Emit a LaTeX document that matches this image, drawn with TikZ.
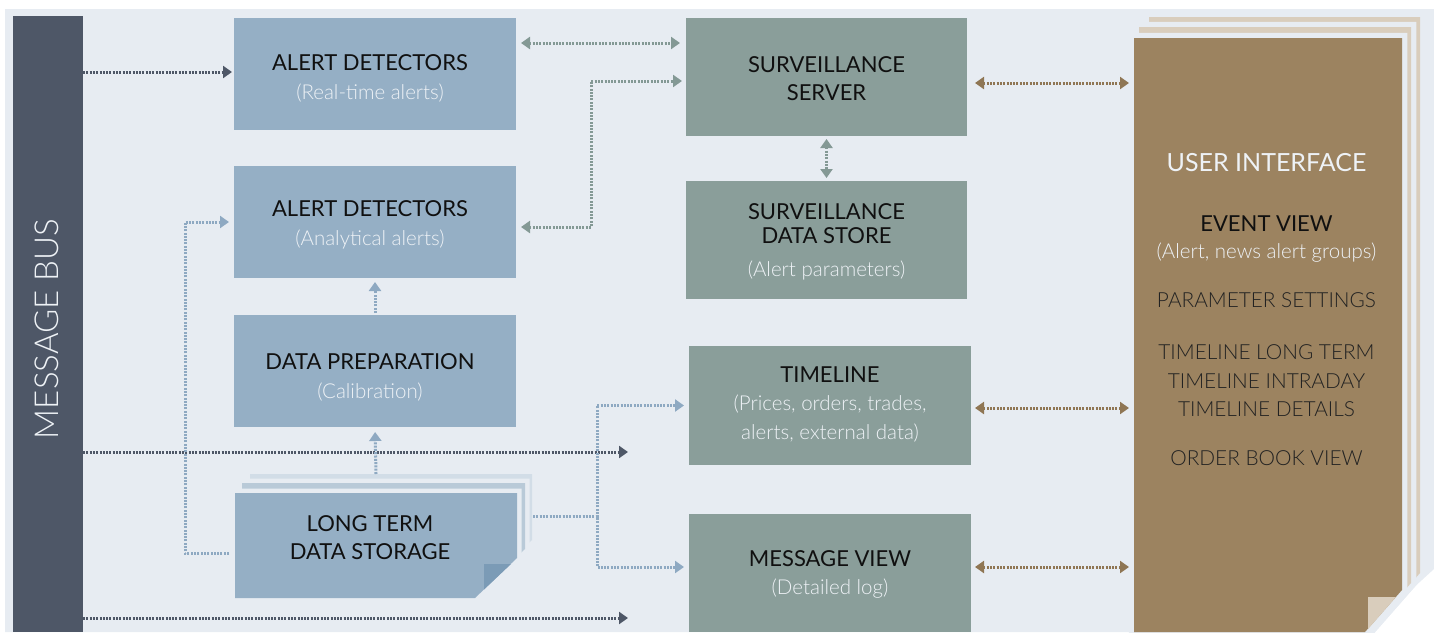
\documentclass[tikz,border=0pt]{standalone}
\usepackage{fontspec}
\setmainfont{Lato}
\newfontfamily\lightfont{Lato Light}
\usetikzlibrary{arrows.meta,calc}

\definecolor{bgc}{HTML}{E7ECF2}
\definecolor{busc}{HTML}{4E5767}
\definecolor{boxblue}{HTML}{95AFC5}
\definecolor{foldblue}{HTML}{7B9BB6}
\definecolor{sheetblueA}{HTML}{B9CAD8}
\definecolor{sheetblueB}{HTML}{D2DDE7}
\definecolor{boxgreen}{HTML}{8A9E9A}
\definecolor{uibrown}{HTML}{9C8360}
\definecolor{sheetbeige}{HTML}{D9CDBC}
\definecolor{arrowblue}{HTML}{8EA9C2}
\definecolor{arrowgreen}{HTML}{849995}
\definecolor{arrowbrown}{HTML}{8F7654}
\definecolor{titlec}{HTML}{101010}
\definecolor{subc}{HTML}{EEF2F6}
\definecolor{itemc}{HTML}{222222}

\begin{document}
\begin{tikzpicture}[x=1pt,y=-1pt,
  box/.style={rectangle, inner sep=0pt, outer sep=0pt, draw=none},
  bluebox/.style={box, fill=boxblue, minimum width=282, minimum height=112},
  greenbox/.style={box, fill=boxgreen, minimum width=281, minimum height=118},
  anchorbox/.style={box, fill=none},
  title/.style={font=\fontsize{22}{26}\selectfont, text=titlec, inner sep=0pt},
  sub/.style={font=\lightfont\fontsize{20.5}{24}\selectfont, text=subc, inner sep=0pt},
  uititle/.style={font=\fontsize{25}{30}\selectfont, text=subc, inner sep=0pt},
  item/.style={font=\lightfont\fontsize{20.8}{25}\selectfont, text=itemc, inner sep=0pt},
  flow/.style={line width=3pt, dash pattern=on 2pt off 1.3pt},
  tipend/.style={-{Triangle[length=9pt,width=12pt]}},
  tipboth/.style={{Triangle[length=9pt,width=12pt]}-{Triangle[length=9pt,width=12pt]}},
  busflow/.style={flow, tipend, draw=busc},
  blueflow/.style={flow, tipend, draw=arrowblue},
  greenflow/.style={flow, tipboth, draw=arrowgreen},
  brownflow/.style={flow, tipboth, draw=arrowbrown},
]
\useasboundingbox (0,0) rectangle (1434,632);

% backdrop with folded lower right corner
\fill[bgc] (5,9) -- (1434,9) -- (1434,569) -- (1365,632) -- (5,632) -- cycle;

% message bus
\node[box, fill=busc, minimum width=70, minimum height=616, anchor=north west] (bus) at (13,16) {};
\node[font=\lightfont\fontsize{33}{40}\selectfont, text=subc, rotate=90, inner sep=0pt] (bustext) at (47,329) {MESSAGE BUS};

% analytics column
\node[bluebox] (ad1) at (375,74) {};
\node[bluebox] (ad2) at (375,222) {};
\node[bluebox] (prep) at (375,371) {};

% long term storage: stacked sheets
\draw[bgc, line width=9pt] (250,474) -- (532,474) -- (532,540) -- (475,594) -- (250,594) -- cycle;
\fill[sheetblueB] (250,474) -- (532,474) -- (532,540) -- (475,594) -- (250,594) -- cycle;
\draw[bgc, line width=9pt] (242,483) -- (525,483) -- (525,549) -- (478,594) -- (242,594) -- cycle;
\fill[sheetblueA] (242,483) -- (525,483) -- (525,549) -- (478,594) -- (242,594) -- cycle;
\draw[bgc, line width=9pt] (235,493) -- (517,493) -- (517,558) -- (475,598) -- (235,598) -- cycle;
\fill[boxblue] (235,493) -- (517,493) -- (517,558) -- (475,598) -- (235,598) -- cycle;
\fill[foldblue] (484,564) -- (511,564) -- (484,589.5) -- cycle;
\node[anchorbox, minimum width=282, minimum height=105] (lts) at (376,545.5) {};

% surveillance column
\node[greenbox] (srv) at (826.5,77) {};
\node[greenbox] (dstore) at (826.5,240) {};
\node[greenbox, minimum width=282, minimum height=119] (tl) at (830,405.5) {};
\node[greenbox, minimum width=282, minimum height=118, anchor=north] (mv) at (830,514) {};

% user interface: stacked sheets
\draw[bgc, line width=10.5pt] (1149,17) -- (1420,17) -- (1420,573) -- (1370,630) -- (1149,630) -- cycle;
\fill[sheetbeige] (1149,17) -- (1420,17) -- (1420,573) -- (1370,630) -- (1149,630) -- cycle;
\draw[bgc, line width=10.5pt] (1139,27) -- (1411,27) -- (1411,583) -- (1368,632) -- (1139,632) -- cycle;
\fill[sheetbeige] (1139,27) -- (1411,27) -- (1411,583) -- (1368,632) -- (1139,632) -- cycle;
\draw[bgc, line width=10.5pt] (1134,38) -- (1402,38) -- (1402,590) -- (1365,632) -- (1134,632) -- cycle;
\fill[uibrown] (1134,38) -- (1402,38) -- (1402,590) -- (1365,632) -- (1134,632) -- cycle;
\fill[sheetbeige] (1368,597) -- (1396,597) -- (1368,629) -- cycle;
\node[anchorbox, minimum width=268, minimum height=594] (ui) at (1268,335) {};

% labels
\node[title] (ad1t) at (370,63) {ALERT DETECTORS};
\node[sub] (ad1s) at (370,93) {(Real-time alerts)};
\node[title] (ad2t) at (370,208.5) {ALERT DETECTORS};
\node[sub] (ad2s) at (370,239.5) {(Analytical alerts)};
\node[title] (prept) at (370,362) {DATA PREPARATION};
\node[sub] (preps) at (370,392.5) {(Calibration)};
\node[title] (ltst1) at (370,524) {LONG TERM};
\node[title] (ltst2) at (370,552) {DATA STORAGE};

\node[title] (srvt1) at (826.5,65) {SURVEILLANCE};
\node[title] (srvt2) at (826.5,93) {SERVER};
\node[title] (dst1) at (826.5,212) {SURVEILLANCE};
\node[title] (dst2) at (826.5,236) {DATA STORE};
\node[sub] (dss) at (826.5,270.5) {(Alert parameters)};
\node[title] (tlt) at (830,375) {TIMELINE};
\node[sub] (tls1) at (830,404.5) {(Prices, orders, trades,};
\node[sub] (tls2) at (830,433.5) {alerts, external data)};
\node[title] (mvt) at (830,559) {MESSAGE VIEW};
\node[sub] (mvs) at (830,589) {(Detailed log)};

\node[uititle] (uit) at (1266.5,163) {USER INTERFACE};
\node[title] (uiev) at (1266.5,224) {EVENT VIEW};
\node[sub] (uievs) at (1266.5,253) {(Alert, news alert groups)};
\node[item] (uips) at (1266.5,300.5) {PARAMETER SETTINGS};
\node[item] (uil1) at (1266.5,352) {TIMELINE LONG TERM};
\node[item] (uil2) at (1266.5,381) {TIMELINE INTRADAY};
\node[item] (uil3) at (1266.5,409.5) {TIMELINE DETAILS};
\node[item] (uiob) at (1266.5,458) {ORDER BOOK VIEW};

% connector end points
\coordinate (busend1) at (628,452);
\coordinate (busend2) at (628,618);
\coordinate (s1) at ([shift={(-6,8)}]lts.west);
\coordinate (j1) at ([xshift=-49pt]ad2.west);
\coordinate (s2) at ([shift={(16,-29.5)}]lts.east);
\coordinate (j2) at ([xshift=-92pt]tl.west);
\coordinate (mvin) at ([yshift=6pt]mv.west);
\coordinate (j3) at ([xshift=-92pt]mvin);
\coordinate (g1) at ([yshift=31pt]ad1.east);
\coordinate (g2) at ([yshift=-5pt]ad2.east);
\coordinate (g3) at ([shift={(-95,4)}]srv.west);
\coordinate (b1) at ([yshift=-6pt]srv.east);
\coordinate (b2) at ([yshift=-2.5pt]tl.east);
\coordinate (b3) at ([yshift=6pt]mv.west -| mv.east);

% message bus feeds
\draw[busflow, shorten >=2pt] ([yshift=2pt]bus.east |- ad1.west) -- ([yshift=2pt]ad1.west);
\draw[busflow] (bus.east |- busend1) -- (busend1);
\draw[busflow] (bus.east |- busend2) -- (busend2);

% storage and analytics flows
\draw[blueflow, shorten >=5pt] (s1) -| (j1) -- (ad2.west);
\draw[blueflow, shorten >=5pt] ([yshift=19pt]lts.north) -- (prep.south);
\draw[blueflow, shorten <=2pt, shorten >=4pt] (prep.north) -- (ad2.south);
\draw[blueflow, shorten >=5pt] (s2) -| (j2) -- (tl.west);
\draw[blueflow, shorten >=5pt] (s2) -| (j3) -- (mvin);

% detector and server exchanges
\draw[greenflow, shorten <=5pt, shorten >=6pt] (g1) -- (g1 -| srv.west);
\draw[greenflow, shorten <=5pt, shorten >=4pt] (g2) -| (g3) -- (g3 -| srv.west);
\draw[greenflow, shorten <=3pt, shorten >=3pt] (srv.south) -- (dstore.north);

% user interface exchanges
\draw[brownflow, shorten <=8pt, shorten >=5pt] (b1) -- (b1 -| ui.west);
\draw[brownflow, shorten <=4pt, shorten >=5pt] (b2) -- (b2 -| ui.west);
\draw[brownflow, shorten <=4pt, shorten >=5pt] (b3) -- (b3 -| ui.west);
\end{tikzpicture}
\end{document}
